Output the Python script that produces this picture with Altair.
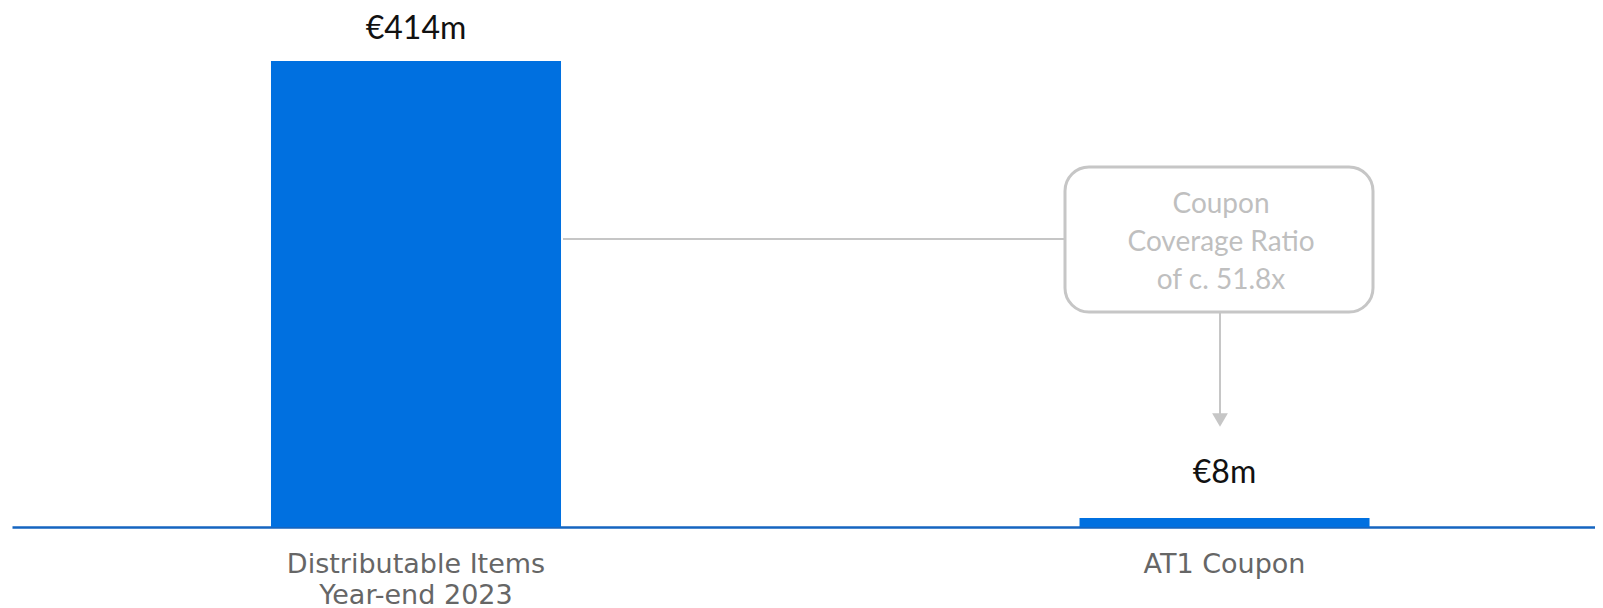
import altair as alt
import pandas as pd

categories = ["Distributable Items|Year-end 2023", "AT1 Coupon"]
values = [414, 8]
value_labels = ["€414m", "€8m"]
callout_lines = ["Coupon", "Coverage Ratio", "of c. 51.8x"]

df = pd.DataFrame({"cat": categories, "value": values, "label": value_labels})

BLUE = "#0070E0"
GREY = "#C6C6C6"

xscale = alt.Scale(domain=categories, paddingInner=0.6413, paddingOuter=0.2996, align=0.5346)
yscale = alt.Scale(domain=[0, 461], nice=False, zero=True)

xenc = alt.X("cat:N", scale=xscale, sort=categories,
             axis=alt.Axis(title=None, ticks=False, labelAngle=0, labelPadding=45,
                           labelBaseline="alphabetic", labelLineHeight=31,
                           labelFontSize=27, labelColor="#666666", labelFont="DejaVu Sans",
                           labelFontWeight="normal", labelLimit=500, labelOverlap=False,
                           labelExpr="split(datum.label, '|')",
                           domainColor="#1565C0", domainWidth=2.5, grid=False))
yenc = alt.Y("value:Q", scale=yscale, axis=None)

base = alt.Chart(df)

bars = base.mark_bar(color=BLUE).encode(x=xenc, y=yenc)

lab1 = base.transform_filter(alt.datum.value > 100).mark_text(
    font="Lato", fontSize=32, color="#111111", baseline="alphabetic", dy=-22
).encode(x=alt.X("cat:N", scale=xscale, sort=categories), y=yenc, text="label:N")

lab2 = base.transform_filter(alt.datum.value <= 100).mark_text(
    font="Lato", fontSize=32, color="#111111", baseline="alphabetic", dy=-35
).encode(x=alt.X("cat:N", scale=xscale, sort=categories), y=yenc, text="label:N")

# callout annotation (pixel-positioned, not data)
ann = alt.Chart(pd.DataFrame({"k": [0]}))

connector = ann.mark_rule(color=GREY, strokeWidth=2).encode(
    x=alt.value(551), x2=alt.value(1053), y=alt.value(231))

box = ann.mark_rect(fill="white", stroke=GREY, strokeWidth=3, cornerRadius=24).encode(
    x=alt.value(1053), x2=alt.value(1361), y=alt.value(159), y2=alt.value(304))

box_text = ann.mark_text(
    font="Lato", fontSize=28, color="#BFBFBF", baseline="alphabetic", align="center",
    lineHeight=38
).encode(x=alt.value(1209), y=alt.value(205), text=alt.value(callout_lines))

arrow_line = ann.mark_rule(color=GREY, strokeWidth=2).encode(
    x=alt.value(1208), y=alt.value(304), y2=alt.value(406))

arrow_head = ann.mark_point(shape="triangle-down", filled=True, color=GREY, opacity=1,
                            size=250).encode(x=alt.value(1208), y=alt.value(412))

chart = alt.layer(bars, lab1, lab2, connector, box, box_text, arrow_line, arrow_head).properties(
    width=1583, height=519,
    padding={"left": 4, "top": 0, "right": 0, "bottom": 84},
    autosize=alt.AutoSizeParams(type="none"),
).configure_view(stroke=None)

chart.save("out.html", embed_options={"renderer": "svg", "actions": False})
